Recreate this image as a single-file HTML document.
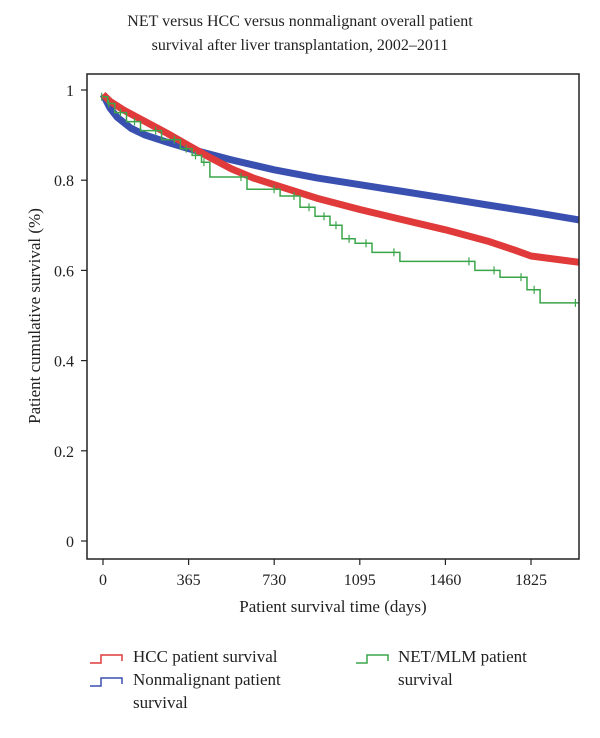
<!DOCTYPE html>
<html><head><meta charset="utf-8"><style>
body{margin:0;background:#fff;width:600px;height:733px;overflow:hidden;font-family:"Liberation Serif",serif;}
svg text{font-family:"Liberation Serif",serif;fill:#222;}
</style></head><body>
<svg id="chart" width="600" height="733" viewBox="0 0 600 733" xmlns="http://www.w3.org/2000/svg">
<defs><clipPath id="plotclip"><rect x="87" y="74" width="492" height="485"/></clipPath></defs>
<text x="300" y="26" font-size="16" text-anchor="middle">NET versus HCC versus nonmalignant overall patient</text>
<text x="300" y="50" font-size="16" text-anchor="middle">survival after liver transplantation, 2002–2011</text>
<g id="axes"></g>
<g id="series" clip-path="url(#plotclip)"></g>
<rect x="87" y="74" width="492" height="485" fill="none" stroke="#222" stroke-width="1.5"/>
<text x="333" y="612" font-size="17" text-anchor="middle">Patient survival time (days)</text>
<text transform="translate(40,316) rotate(-90)" font-size="17" text-anchor="middle">Patient cumulative survival (%)</text>
<g>
<path d="M90 663 H101 V655 H122 V661" fill="none" stroke="#e03a3a" stroke-width="1.5"/>
<text x="133" y="662" font-size="17">HCC patient survival</text>
<path d="M90 686 H101 V678 H122 V684" fill="none" stroke="#3a50b0" stroke-width="1.5"/>
<text x="133" y="685" font-size="17">Nonmalignant patient</text>
<text x="133" y="708" font-size="17">survival</text>
<path d="M356 663 H367 V655 H388 V661" fill="none" stroke="#3aa54a" stroke-width="1.5"/>
<text x="398" y="662" font-size="17">NET/MLM patient</text>
<text x="398" y="685" font-size="17">survival</text>
</g>
</svg>
<script>
const xTicks=[0,365,730,1095,1460,1825];
const yTicks=[0,0.2,0.4,0.6,0.8,1];
const yTickLabels=["0","0.2","0.4","0.6","0.8","1"];
const blueDays=[0,30,60,120,180,270,365,548,730,912,1095,1280,1460,1640,1825,2030];
const blueVals=[0.99,0.96,0.94,0.915,0.90,0.885,0.87,0.845,0.823,0.805,0.79,0.775,0.76,0.745,0.73,0.712];
const redDays=[0,30,90,180,270,365,450,548,640,730,912,1095,1280,1460,1640,1755,1825,2030];
const redVals=[0.99,0.975,0.955,0.93,0.905,0.877,0.852,0.825,0.805,0.79,0.76,0.735,0.712,0.69,0.665,0.645,0.632,0.618];
const greenDays=[0,20,50,100,160,250,330,380,420,456,614,755,840,904,968,1019,1075,1147,1266,1586,1693,1808,1864,2040];
const greenVals=[0.985,0.97,0.95,0.93,0.91,0.89,0.87,0.855,0.84,0.807,0.78,0.765,0.74,0.72,0.70,0.67,0.66,0.64,0.62,0.60,0.585,0.557,0.528,0.528];
const X=d=>103+d*(428/1825);
const Y=v=>541-v*451;
const ns="http://www.w3.org/2000/svg";
const axes=document.getElementById('axes'),series=document.getElementById('series');
function mk(tag,attrs,parent){const e=document.createElementNS(ns,tag);for(const k in attrs)e.setAttribute(k,attrs[k]);parent.appendChild(e);return e;}
xTicks.forEach(t=>{
 const l=mk('line',{x1:X(t),x2:X(t),y1:559,y2:565,stroke:'#222','stroke-width':1.2},axes);
 
 
 const tx=mk('text',{x:X(t),y:585,'font-size':16,'text-anchor':'middle'},axes);
 tx.textContent=t;
 
 
});
yTicks.forEach((t,i)=>{
 const l=mk('line',{x1:81,x2:87,y1:Y(t),y2:Y(t),stroke:'#222','stroke-width':1.2},axes);
 
 
 const tx=mk('text',{x:74,y:Y(t)+6,'font-size':16,'text-anchor':'end'},axes);
 tx.textContent=yTickLabels[i];
 
 
});
function linePath(d,v){return d.map((x,i)=>(i?'L':'M')+X(x).toFixed(1)+' '+Y(v[i]).toFixed(1)).join(' ');}
function stepPath(d,v){let s='M'+X(d[0])+' '+Y(v[0]);for(let i=1;i<d.length;i++){s+=' H'+X(d[i]).toFixed(1)+' V'+Y(v[i]).toFixed(1);}return s;}
const b=mk('path',{d:linePath(blueDays,blueVals),fill:'none',stroke:'#3a50b0','stroke-width':7,'stroke-linejoin':'round'},series);


const r=mk('path',{d:linePath(redDays,redVals),fill:'none',stroke:'#e03a3a','stroke-width':7,'stroke-linejoin':'round'},series);


const g=mk('path',{d:stepPath(greenDays,greenVals),fill:'none',stroke:'#3aa54a','stroke-width':1.5},series);


greenDays.forEach((d,i)=>{if(i===0)return;
 const c=mk('line',{x1:X(d)-6,x2:X(d)-6,y1:Y(greenVals[i-1])-4,y2:Y(greenVals[i-1])+4,stroke:'#3aa54a','stroke-width':1.2},series);
 
 
});
</script>
</body></html>
